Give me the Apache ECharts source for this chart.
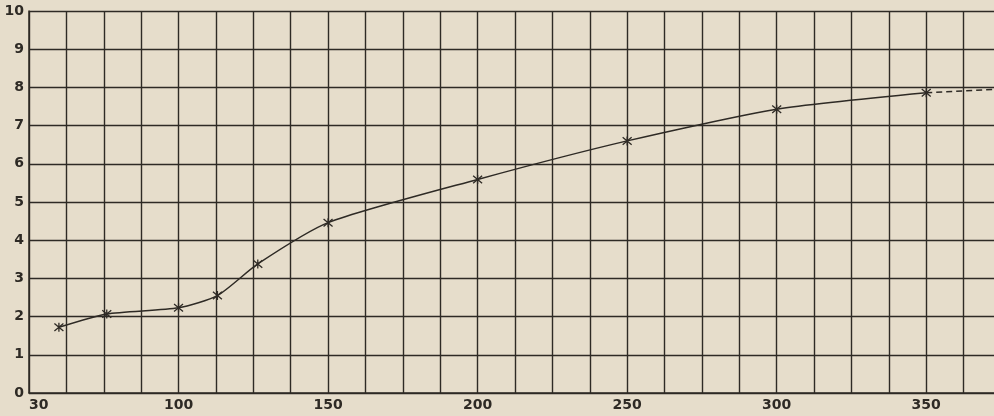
<!DOCTYPE html>
<html>
<head>
<meta charset="utf-8">
<script src="https://cdn.jsdelivr.net/npm/echarts@6/dist/echarts.min.js"></script>
<style>
  html, body { margin: 0; padding: 0; background: #e6ddcb; }
  #chart { width: 994px; height: 416px; }
</style>
</head>
<body>
<div id="chart"></div>
<script>
const xValues = [60, 76, 100, 113, 126.5, 150, 200, 250, 300, 350];
const yValues = [1.72, 2.07, 2.23, 2.55, 3.38, 4.46, 5.59, 6.6, 7.43, 7.86];
// Dashed continuation beyond the last point
const dashX = [350, 375];
const dashY = [7.86, 7.96];
// Tick labels (x-axis labels every 50; first printed label reads "30")
const xTickValues = [50, 100, 150, 200, 250, 300, 350];
const xTickLabels = ['30', '100', '150', '200', '250', '300', '350'];
const yTickLabels = ['0', '1', '2', '3', '4', '5', '6', '7', '8', '9', '10'];

const ink = '#2e2a25';
const mainData = xValues.map((x, i) => [x, yValues[i]]);
const dashData = dashX.map((x, i) => [x, dashY[i]]);

const chart = echarts.init(document.getElementById('chart'), null, { renderer: 'canvas' });
chart.setOption({
  backgroundColor: '#e6ddcb',
  animation: false,
  grid: { left: 29, top: 11, bottom: 23, right: -7, containLabel: false, outerBoundsMode: 'none' },
  xAxis: {
    type: 'value', min: 50, max: 375, interval: 12.5,
    axisLine: { show: true, lineStyle: { color: ink, width: 1.5 } },
    axisTick: { show: false },
    splitLine: { show: true, lineStyle: { color: ink, width: 1.4 } },
    axisLabel: {
      color: ink, fontFamily: 'DejaVu Sans', fontWeight: 'bold', fontSize: 14,
      margin: 5, alignMinLabel: 'left',
      formatter: function (v) {
        const idx = xTickValues.indexOf(v);
        return idx >= 0 ? xTickLabels[idx] : '';
      }
    }
  },
  yAxis: {
    type: 'value', min: 0, max: 10, interval: 1,
    axisLine: { show: true, lineStyle: { color: ink, width: 1.5 } },
    axisTick: { show: false },
    splitLine: { show: true, lineStyle: { color: ink, width: 1.4 } },
    axisLabel: {
      color: ink, fontFamily: 'DejaVu Sans', fontWeight: 'bold', fontSize: 14,
      margin: 5,
      formatter: function (v) { return yTickLabels[Math.round(v)] || ''; }
    }
  },
  series: [
    {
      type: 'line', data: mainData, smooth: 0.22,
      lineStyle: { color: ink, width: 1.5 },
      symbol: 'path://M-1,-1L1,1M-1,1L1,-1M0,-1.2L0,1.2',
      symbolSize: 9,
      itemStyle: { color: 'none', borderColor: ink, borderWidth: 1.3 },
      z: 5
    },
    {
      type: 'line', data: dashData, smooth: false, showSymbol: false, symbol: 'none',
      lineStyle: { color: ink, width: 1.5, type: [6, 4] },
      z: 5
    }
  ]
});
</script>
</body>
</html>
